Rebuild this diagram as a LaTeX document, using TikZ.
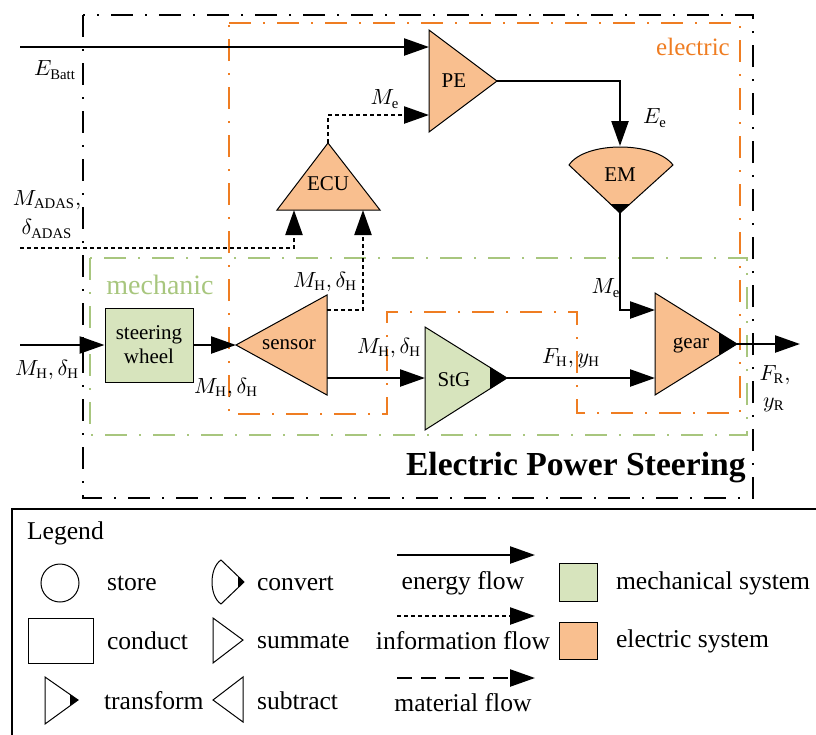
\documentclass[tikz,border=0pt]{standalone}
\usepackage{fontspec}
\setmainfont{Liberation Serif}
\usetikzlibrary{arrows.meta}
\definecolor{elecfill}{HTML}{F9BF8F}
\definecolor{mechfill}{HTML}{D7E4BD}
\definecolor{elecline}{HTML}{EF7D22}
\definecolor{mechline}{HTML}{A8C67E}

\tikzset{
  flowtip/.style={-{Triangle[length=12.5pt,width=8.5pt]}},
  energy/.style={flowtip,line width=1.2pt},
  info/.style={flowtip,line width=1.2pt,dash pattern=on 2pt off 1.5pt},
  material/.style={flowtip,line width=1.2pt,dash pattern=on 7.5pt off 4.5pt},
  blk/.style={draw,line width=0.5pt},
  dashdot/.style={dash pattern=on 11pt off 6pt on 1pt off 6pt},
  lgtext/.style={font=\fontsize{12.8}{14}\selectfont},
}

\begin{document}
\begin{tikzpicture}[x=0.5pt,y=-0.5pt,font=\fontsize{10.5}{12}\selectfont]
  \useasboundingbox (0,0) rectangle (816,735);
  % frames
  \draw[line width=1.3pt,dashdot] (83,15) rectangle (753,498);
  \draw[elecline,line width=1pt,dashdot] (229,23) -- (740,23) -- (740,413) -- (577,413) -- (577,312)
    -- (387,312) -- (387,414) -- (229,414) -- cycle;
  \draw[mechline,line width=1.3pt,dashdot] (90,258) rectangle (747,435);
  \node[text=elecline,font=\fontsize{12.5}{14}\selectfont] (electric) at (693,47) {electric};
  \node[text=mechline,font=\fontsize{14}{16}\selectfont] (mechanic) at (160,285) {mechanic};
  \node[font=\bfseries\fontsize{16.8}{19}\selectfont,anchor=east,inner sep=0pt] (eps) at (746,468) {Electric Power Steering};

  % blocks
  \filldraw[blk,fill=elecfill] (429,30) -- (497,81) -- (429,132) -- cycle;
  \node (pe) at (454,81) {PE};
  \filldraw[blk,fill=elecfill] (328,143) -- (380,210) -- (277,210) -- cycle;
  \node (ecu) at (328,184) {ECU};
  \filldraw[blk,fill=elecfill] (569,165) .. controls (585,141) and (655,141) .. (673,165) -- (620,213) -- cycle;
  \fill (610,204) -- (630,204) -- (620,213) -- cycle;
  \node (em) at (620,175) {EM};
  \filldraw[blk,fill=elecfill] (655,293) -- (737,344) -- (655,395) -- cycle;
  \fill (719,333) -- (737,344) -- (719,355) -- cycle;
  \node (gear) at (691,345) {gear};
  \filldraw[blk,fill=mechfill] (425,327) -- (507,378) -- (425,430) -- cycle;
  \fill (490,367) -- (507,378) -- (490,389) -- cycle;
  \node (stg) at (454,380) {StG};
  \filldraw[blk,fill=elecfill] (236,345) -- (327,295) -- (327,395) -- cycle;
  \node (sensor) at (289,345) {sensor};
  \node[blk,fill=mechfill,minimum width=44pt,minimum height=37pt,align=center,inner sep=1pt] (sw) at (149,345)
    {steering\\wheel};

  % ports
  \coordinate (pe-a) at (429,47);
  \coordinate (pe-b) at (429,115);
  \coordinate (pe-out) at (497,81);
  \coordinate (ecu-top) at (328,143);
  \coordinate (ecu-a) at (294,210);
  \coordinate (ecu-b) at (363,210);
  \coordinate (em-in) at (620,146);
  \coordinate (em-out) at (620,213);
  \coordinate (gear-a) at (655,310);
  \coordinate (gear-b) at (655,378);
  \coordinate (gear-out) at (737,344);
  \coordinate (stg-in) at (425,378);
  \coordinate (stg-out) at (507,378);
  \coordinate (sen-in) at (236,345);
  \coordinate (sen-up) at (327,310);
  \coordinate (sen-out) at (327,378);
  \coordinate (batt) at (20,47);
  \coordinate (adas) at (20,248);
  \coordinate (hand) at (20,345);
  \coordinate (road) at (800,344);

  % flows
  \draw[energy] (batt) -- (pe-a);
  \draw[info] (ecu-top) |- (pe-b);
  \draw[energy] (pe-out) -| (em-in);
  \draw[energy] (em-out) |- (gear-a);
  \draw[info] (adas) -| (ecu-a);
  \draw[info] (sen-up) -| (ecu-b);
  \draw[energy] (hand) -- (sw);
  \draw[energy] (sw) -- (sen-in);
  \draw[energy] (sen-out) -- (stg-in);
  \draw[energy] (stg-out) -- (gear-b);
  \draw[energy] (gear-out) -- (road);

  \node (l-batt) at (55,70) {$E_\mathrm{Batt}$};
  \node (l-me1) at (385,99) {$M_\mathrm{e}$};
  \node (l-ee) at (655,118) {$E_\mathrm{e}$};
  \node (l-me2) at (606,288) {$M_\mathrm{e}$};
  \node (l-adas1) at (47,200) {$M_\mathrm{ADAS},$};
  \node (l-adas2) at (47,229) {$\delta_\mathrm{ADAS}$};
  \node (l-hand) at (47,370) {$M_\mathrm{H},\delta_\mathrm{H}$};
  \node (l-sw) at (226,388) {$M_\mathrm{H},\delta_\mathrm{H}$};
  \node (l-sen) at (325,282) {$M_\mathrm{H},\delta_\mathrm{H}$};
  \node (l-stg) at (389,348) {$M_\mathrm{H},\delta_\mathrm{H}$};
  \node (l-fh) at (571,358) {$F_\mathrm{H},y_\mathrm{H}$};
  \node (l-fr) at (775,375) {$F_\mathrm{R},$};
  \node (l-yr) at (774,405) {$y_\mathrm{R}$};

  % legend
  \draw[line width=1pt] (12,509) rectangle (830,750);
  \draw[blk] (60,583) circle (9.5pt);
  \draw[blk] (28,618) rectangle (93,663);
  \draw[blk] (45,677) -- (78,700) -- (45,724) -- cycle;
  \fill (70,694.4) -- (78,700) -- (70,705.6) -- cycle;
  \draw[blk] (221,560) .. controls (209,568) and (209,596) .. (221,604) -- (244,582) -- cycle;
  \fill (238,576.3) -- (244,582) -- (238,587.7) -- cycle;
  \draw[blk] (213,618) -- (243,640) -- (213,663) -- cycle;
  \draw[blk] (243,677) -- (213,700) -- (243,722) -- cycle;
  \filldraw[blk,fill=mechfill] (559,563) rectangle (597,601);
  \filldraw[blk,fill=elecfill] (559,622) rectangle (597,659);
  \foreach \n/\y in {energy/555,info/616,material/678}{
    \coordinate (lg-\n-a) at (397,\y);
    \coordinate (lg-\n-b) at (535,\y);
    \draw[\n] (lg-\n-a) -- (lg-\n-b);
  }
  \foreach \n/\x/\y/\t in {legend/20/533/Legend,store/100/583/store,conduct/100/641/conduct,
      transform/97/701/transform,convert/250/583/convert,summate/250/641/summate,
      subtract/250/701/subtract,mech/609/583/mechanical system,elec/609/641/electric system}
    \node[lgtext,anchor=west] (lg-\n) at (\x,\y) {\t};
  \foreach \n/\y/\t in {energy/583/energy flow,info/641/information flow,material/703/material flow}
    \node[lgtext] (lg-\n) at (463,\y) {\t};
\end{tikzpicture}
\end{document}
